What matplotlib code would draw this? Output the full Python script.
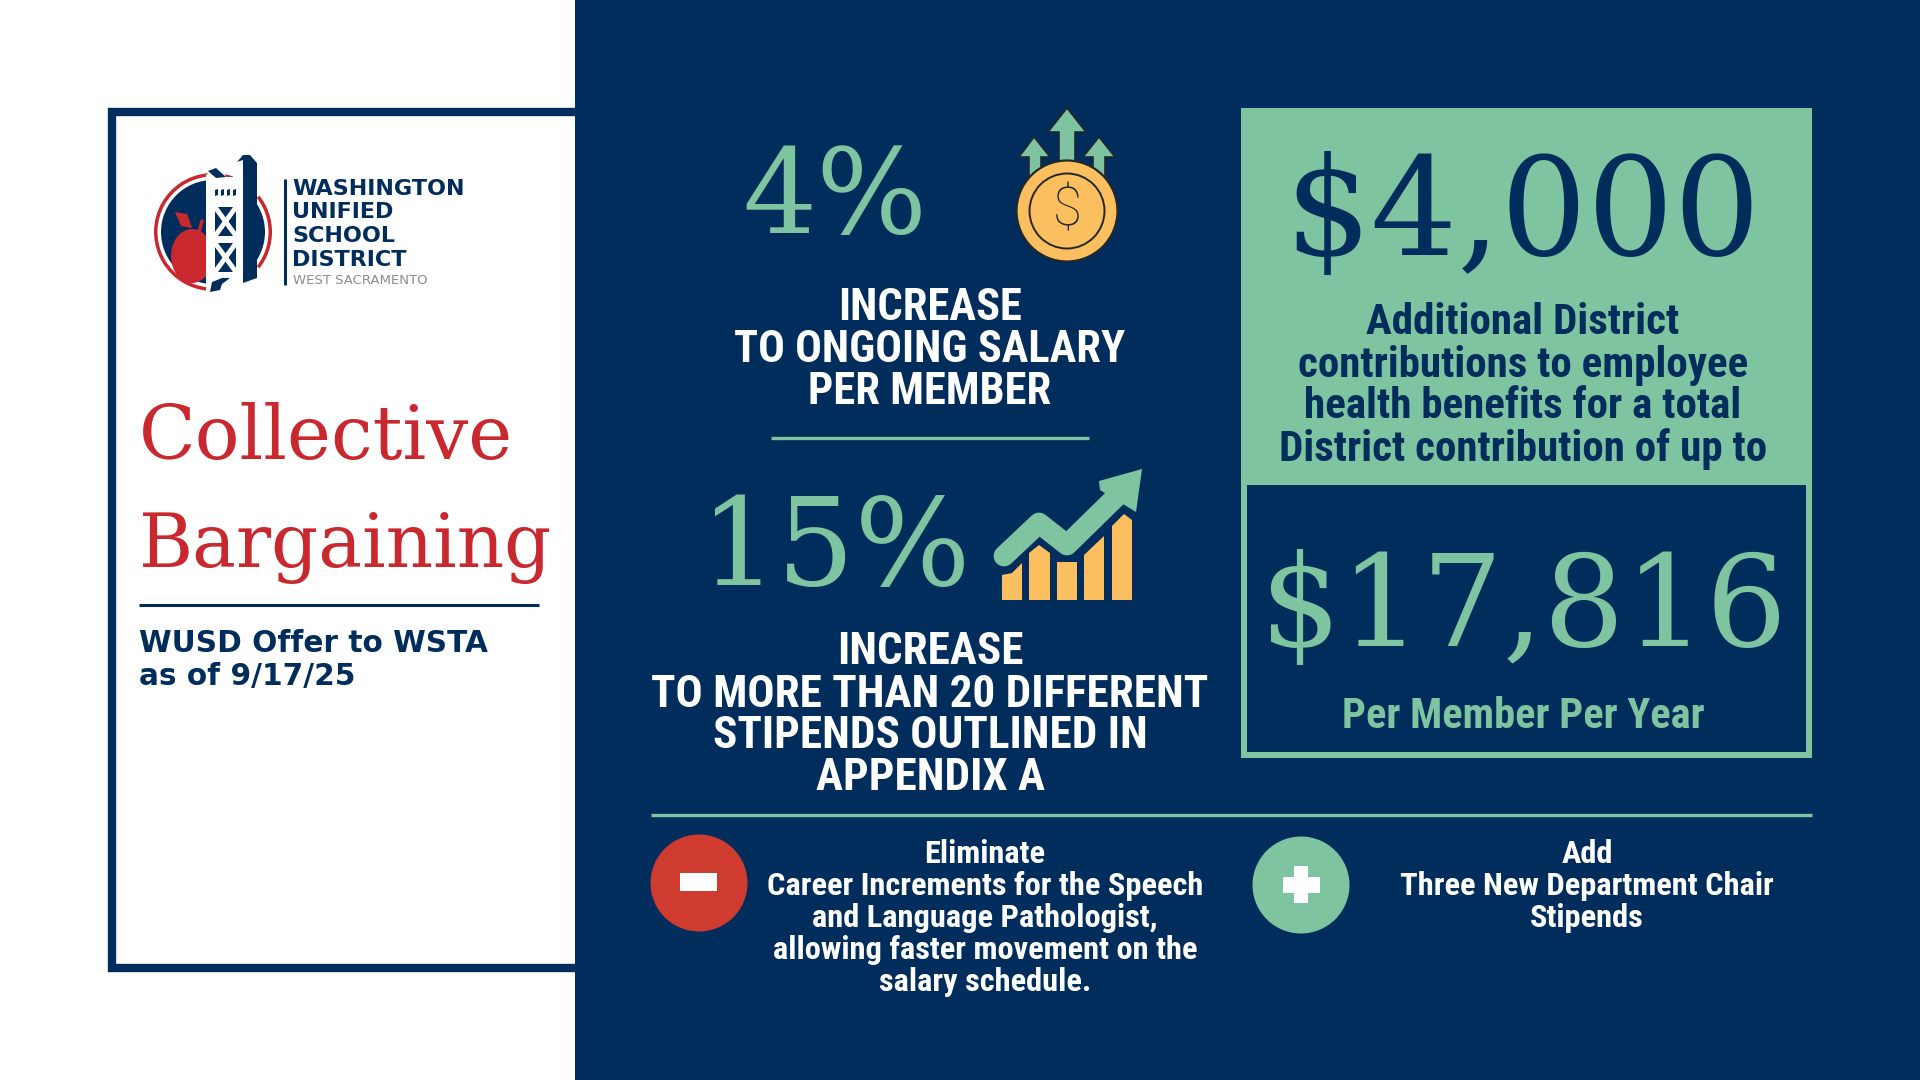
import matplotlib
matplotlib.use('Agg')
import matplotlib.pyplot as plt
from matplotlib import font_manager as fm
from matplotlib.patches import Rectangle, Circle, Ellipse, Polygon, Wedge

NAVY = '#012d5c'
GREEN = '#7ec4a0'
RED = '#c8282e'
COIN_RED = '#cf3b2e'
GOLD = '#fbbf5f'
DARK = '#22282c'

title_lines = ['Collective', 'Bargaining']
subtitle_lines = ['WUSD Offer to WSTA', 'as of 9/17/25']
logo_lines = ['WASHINGTON', 'UNIFIED', 'SCHOOL', 'DISTRICT']
logo_sub = 'WEST SACRAMENTO'
salary_pct = '4%'
salary_lines = ['INCREASE', 'TO ONGOING SALARY', 'PER MEMBER']
stipend_pct = '15%'
stipend_lines = ['INCREASE', 'TO MORE THAN 20 DIFFERENT', 'STIPENDS OUTLINED IN', 'APPENDIX A']
extra_amount = '$4,000'
extra_lines = ['Additional District', 'contributions to employee',
               'health benefits for a total', 'District contribution of up to']
total_amount = '$17,816'
total_label = 'Per Member Per Year'
eliminate_lines = ['Eliminate', 'Career Increments for the Speech', 'and Language Pathologist,',
                   'allowing faster movement on the', 'salary schedule.']
add_lines = ['Add', 'Three New Department Chair', 'Stipends']


def pick_font(*names):
    for name in names:
        try:
            fm.findfont(name, fallback_to_default=False)
            return name
        except ValueError:
            pass
    return 'DejaVu Sans'


NARROW = pick_font('Liberation Sans Narrow', 'Roboto Condensed', 'Roboto')
SLAB = 'DejaVu Serif'

fig = plt.figure(figsize=(19.2, 10.8), dpi=100, facecolor='white')
ax = fig.add_axes([0, 0, 1, 1])
ax.set_xlim(0, 1920)
ax.set_ylim(1080, 0)
ax.axis('off')


def txt(x, y, s, size, color, family=NARROW, weight='bold', ha='center', va='center', **kw):
    return ax.text(x, y, s, fontsize=size, color=color, family=family, weight=weight,
                   ha=ha, va=va, **kw)


def stacked(x, ys, lines, size, color, **kw):
    for y, line in zip(ys, lines):
        txt(x, y, line, size, color, **kw)


def big(x, y, s, size, color):
    txt(x, y, s, size, color, family=SLAB, weight='normal', va='baseline')


# panels
ax.add_patch(Rectangle((112, 112), 470, 856, fc='white', ec=NAVY, lw=6))
ax.add_patch(Rectangle((575, 0), 1345, 1080, fc=NAVY, ec='none'))

# logo
ax.add_patch(Wedge((213, 232), 59, 75, 290, width=3.5, fc=RED, ec='none'))
ax.add_patch(Wedge((213, 232), 59, -38, 38, width=3.5, fc=RED, ec='none'))
ax.add_patch(Wedge((213, 232), 52, 90, 270, fc=NAVY, ec='none'))
ax.add_patch(Wedge((213, 232), 52, -90, 90, fc=NAVY, ec='none'))
ax.add_patch(Ellipse((192, 256), 42, 54, fc=RED, ec='none'))
ax.add_patch(Polygon([(175, 212), (187, 214), (192, 228), (181, 226)], fc=RED, ec='none'))
ax.plot([199, 202], [232, 221], color=RED, lw=2.5, solid_capstyle='round')
ax.add_patch(Polygon([(206, 175), (215, 168), (222, 167), (226, 177), (243, 177), (243, 290),
                      (206, 292)], fc='white', ec='none'))
ax.add_patch(Polygon([(208, 171), (216, 168), (226, 177), (216, 178)], fc=NAVY, ec='none'))
ax.add_patch(Polygon([(243, 160), (237, 162), (243, 155), (250, 155), (257, 163), (257, 278),
                      (243, 283)], fc=NAVY, ec='none'))
for x0 in (215, 221, 227, 233):
    ax.add_patch(Polygon([(x0, 190), (x0 + 3, 189), (x0 + 3, 195), (x0, 196)], fc=NAVY, ec='none'))
for y0 in (207, 243):
    ax.add_patch(Rectangle((215, y0), 21, 29, fc=NAVY, ec='none'))
    ax.plot([215, 236], [y0, y0 + 29], color='white', lw=3.5, solid_capstyle='butt')
    ax.plot([215, 236], [y0 + 29, y0], color='white', lw=3.5, solid_capstyle='butt')
ax.add_patch(Polygon([(210, 292), (212, 282), (222, 278), (230, 278), (222, 284), (220, 290)],
                     fc=NAVY, ec='none'))
ax.plot([284.5, 284.5], [179, 285], color=NAVY, lw=2.2, solid_capstyle='butt')
for y, line in zip((189, 212.5, 236.5, 260), logo_lines):
    txt(292, y, line, 16, NAVY, family='DejaVu Sans', ha='left')
txt(293, 281, logo_sub, 9.5, '#8a8d91', family='DejaVu Sans', weight='normal', ha='left')

# title block
txt(139, 459, title_lines[0], 53.5, RED, family=SLAB, weight='normal', ha='left', va='baseline')
txt(139, 567, title_lines[1], 53, RED, family=SLAB, weight='normal', ha='left', va='baseline')
ax.plot([139, 539], [605, 605], color=NAVY, lw=2.2, solid_capstyle='butt')
for y, line in zip((644, 676), subtitle_lines):
    txt(139, y, line, 21.3, NAVY, family='DejaVu Sans', ha='left')

# percentages
big(835, 233, salary_pct, 84, GREEN)
big(835, 585, stipend_pct, 88, GREEN)
stacked(930, (308, 350, 392), salary_lines, 32, 'white')
ax.plot([771, 1089], [437.5, 437.5], color=GREEN, lw=2.4, solid_capstyle='butt')
stacked(930, (652, 695, 736, 778), stipend_lines, 32.5, 'white')

# coin icon
ax.add_patch(Polygon([(1067, 108), (1048, 132), (1059, 132), (1059, 165), (1075, 165), (1075, 132),
                      (1086, 132)], fc=GREEN, ec=DARK, lw=1.2))
ax.add_patch(Polygon([(1034, 137), (1019, 157), (1029, 157), (1029, 178), (1041, 178), (1041, 157),
                      (1050, 157)], fc=GREEN, ec=DARK, lw=1.2))
ax.add_patch(Polygon([(1099, 137), (1083, 157), (1093, 157), (1093, 178), (1105, 178), (1105, 157),
                      (1115, 157)], fc=GREEN, ec=DARK, lw=1.2))
ax.add_patch(Circle((1067, 211), 50.5, fc=GOLD, ec=DARK, lw=1.6))
ax.add_patch(Circle((1067, 211), 37.5, fc='none', ec=DARK, lw=1.4))
txt(1067, 211, '$', 38, DARK, family='Roboto', weight='light')

# trend icon
for verts in ([(1002, 575), (1012, 573), (1022, 563), (1022, 600), (1002, 600)],
              [(1029, 553), (1039, 545), (1050, 553), (1050, 600), (1029, 600)],
              [(1057, 562), (1077, 562), (1077, 600), (1057, 600)],
              [(1084, 555), (1104, 536), (1104, 600), (1084, 600)],
              [(1112, 526), (1124, 514), (1132, 520), (1132, 600), (1112, 600)]):
    ax.add_patch(Polygon(verts, fc=GOLD, ec='none', joinstyle='round'))
ax.plot([1004, 1039, 1067, 1118], [556, 523, 545, 495], color=GREEN, lw=15,
        solid_joinstyle='round', solid_capstyle='round')
ax.add_patch(Polygon([(1099, 481), (1142, 469), (1136, 512), (1100, 490)], fc=GREEN, ec='none'))

# right column
ax.add_patch(Rectangle((1241, 108), 571, 650, fc=GREEN, ec='none'))
ax.add_patch(Rectangle((1247, 485), 559, 267, fc=NAVY, ec='none'))
big(1523, 255, extra_amount, 98, NAVY)
stacked(1523, (323, 365, 407, 449), extra_lines, 31, NAVY)
big(1523, 646, total_amount, 92, GREEN)
txt(1523, 717, total_label, 30.5, GREEN)

# bottom row
ax.plot([651, 1812], [814.5, 814.5], color=GREEN, lw=2.4, solid_capstyle='butt')
ax.add_patch(Circle((699, 883), 48.5, fc=COIN_RED, ec='none'))
ax.add_patch(Rectangle((680, 873), 37, 18, fc='white', ec='none'))
ax.add_patch(Circle((1301, 885), 48.5, fc=GREEN, ec='none'))
ax.add_patch(Rectangle((1283, 877), 37, 16, fc='white', ec='none'))
ax.add_patch(Rectangle((1294, 866), 14, 37, fc='white', ec='none'))
stacked(985, (854, 886, 918, 950, 982), eliminate_lines, 23.3, 'white')
stacked(1587, (854, 886, 918), add_lines, 23.3, 'white')

fig.savefig('out.png', dpi=100, facecolor='white')
